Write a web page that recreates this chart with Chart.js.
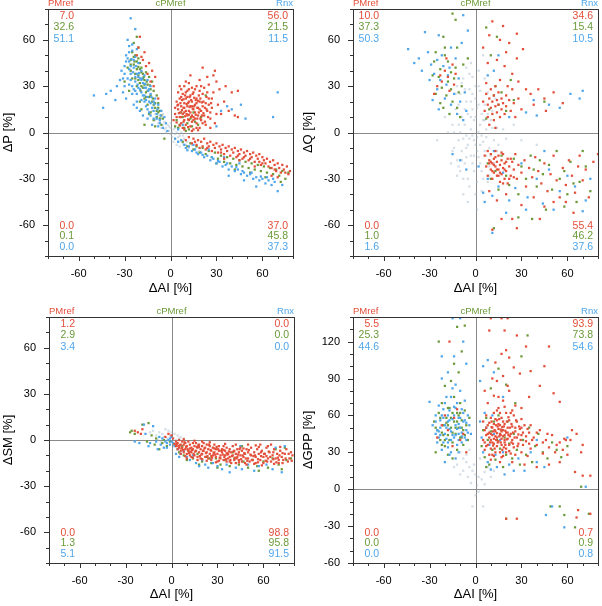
<!DOCTYPE html>
<html>
<head>
<meta charset="utf-8">
<script src="https://cdn.jsdelivr.net/npm/chart.js@4.4.1/dist/chart.umd.min.js"></script>
<style>
  body { margin: 0; background: #fff; }
  .panel { position: absolute; }
</style>
</head>
<body>
<canvas id="c1" class="panel" style="left:0;top:0" width="300" height="300"></canvas>
<canvas id="c2" class="panel" style="left:300px;top:0" width="302" height="300"></canvas>
<canvas id="c3" class="panel" style="left:0;top:300px" width="300" height="306"></canvas>
<canvas id="c4" class="panel" style="left:300px;top:300px" width="302" height="306"></canvas>
<script>
// series names (top labels)
let seriesNames = ['PMref', 'cPMref', 'Rnx'];

// corner percentages, order: PMref, cPMref, Rnx
let p1TL = [7.0, 32.6, 51.1], p1TR = [56.0, 21.5, 11.5], p1BL = [0.0, 0.1, 0.0], p1BR = [37.0, 45.8, 37.3];
let p2TL = [10.0, 37.3, 50.3], p2TR = [34.6, 15.4, 10.5], p2BL = [0.0, 1.0, 1.6], p2BR = [55.4, 46.2, 37.6];
let p3TL = [1.2, 2.9, 3.4], p3TR = [0.0, 0.0, 0.0], p3BL = [0.0, 1.3, 5.1], p3BR = [98.8, 95.8, 91.5];
let p4TL = [5.5, 25.3, 44.6], p4TR = [93.9, 73.8, 54.6], p4BL = [0.0, 0.0, 0.0], p4BR = [0.7, 0.9, 0.8];

// ---- panel 1 : dP vs dAI ----
let p1Red = [[4,20],[5,15],[6,10],[6,22],[7,6],[7,17],[8,12],[8,25],[8,3],[9,19],[9,8],[10,14],[10,22],[10,5],[11,17],[11,11],[11,27],[12,20],[12,8],[12,14],[13,24],[13,4],[13,17],[14,11],[14,20],[14,7],[15,15],[15,26],[15,2],[16,18],[16,9],[16,13],[17,22],[17,6],[18,16],[18,11],[19,20],[19,3],[20,14],[20,8],[21,25],[21,17],[22,11],[23,19],[23,5],[24,14],[25,22],[26,9],[27,16],[28,26],[5,26],[6,30],[9,30],[12,32],[14,29],[17,30],[19,34],[22,29],[25,31],[28,37],[30,33],[32,28],[24,36],[13,37],[21,42],[29,40],[36,30],[40,26],[44,27],[35,20],[38,14],[42,11],[44,10],[31,18],[33,12],[29,6],[26,3],[3,12],[2,8],[7,28],[10,33],[9,16],[13,13],[17,19],[11,23],[15,10],[19,15],[7,10],[21,6],
  [4.5,17.5],[5.5,12.5],[6.5,19],[7.5,14.5],[8.5,21.5],[9.5,10.5],[10.5,18.5],[11.5,8.5],[12.5,16.5],[13.5,21],[14.5,15.5],[15.5,22.5],[16.5,11.5],[17.5,16],[18.5,24],[19.5,9],[20.5,19.5],[21.5,12.5],[22.5,16],[23.5,23],[24.5,10],[26.5,19],[8.5,7],[11.5,3.5],[15,8],[18,1.5],[6,4.5],[4,6.5],[10,26],[16,28],[20,30],[27,22],[30,12],[12,11.5],[14,17],[18,20.5],[9,13],
  [5,18],[6.5,13],[7.5,21],[8.5,16],[9.5,24],[10.5,12],[11.5,19],[12.5,23],[13.5,10],[14.5,25],[15.5,17],[16.5,21],[17.5,9],[18.5,13],[19.5,22],[20.5,11],[21.5,20],[22.5,7],[23.5,15],[25,18],[26,13],[9,2],[14,1],[17,3],[4,10],[3,16],[7,23],[12,28],[19,27],[24,26],
  [-20,62],[-17,52],[-18,47],[-14,45],[-12,40],[-16,43],[-10,36],[-13,33],[-21,55],[-19,49],[-11,30],[-15,38],[-8,22],[-22,50],
  [10,-5],[12,-3],[14,-7],[15,-4],[17,-8],[18,-5],[19,-10],[20,-6],[21,-9],[22,-4],[23,-11],[24,-7],[25,-9],[26,-6],[27,-12],[28,-8],[29,-10],[30,-7],[31,-13],[32,-9],[33,-11],[34,-8],[35,-14],[36,-10],[37,-12],[38,-9],[39,-15],[40,-11],[41,-13],[42,-10],[43,-16],[44,-12],[45,-14],[46,-11],[47,-17],[48,-13],[49,-15],[50,-12],[51,-18],[52,-14],[53,-16],[54,-13],[55,-19],[56,-15],[57,-17],[58,-14],[59,-21],[60,-16],[61,-18],[62,-20],[63,-17],[64,-22],[65,-19],[66,-23],[67,-18],[68,-21],[69,-25],[70,-20],[71,-23],[72,-26],[73,-21],[74,-24],[76,-22],[77,-27],[78,-25],[66,-28],[70,-29],[55,-22],[45,-18],[35,-17],
  [16,-6],[24,-10],[33,-13],[44,-15],[52,-17],[60,-20],[68,-24],[75,-26],[58,-19],[48,-16]];
let p1Green = [[-25,52],[-23,50],[-26,47],[-21,48],[-24,44],[-20,45],[-22,41],[-19,42],[-26,40],[-18,38],[-21,37],[-16,39],[-23,35],[-17,34],[-14,36],[-20,32],[-15,31],[-12,33],[-18,29],[-13,28],[-16,26],[-11,27],[-14,23],[-9,24],[-17,22],[-12,20],[-8,19],[-15,18],[-10,16],[-13,13],[-7,14],[-9,10],[-5,9],[-11,8],[-6,5],[-22,30],[-25,35],[-28,42],[-30,33],[-27,27],[-20,20],[-19,15],[-17,5],[-4,-4],[-24,58],[-22,62],[-21,55],[-14,12],[-10,4],[-8,13],
  [-23.5,46],[-21,42.5],[-19,39],[-17.5,36],[-15.5,33],[-13.5,30.5],[-11.5,22],[-10,19],[-8,16],[-6,11],[-19.5,27],[-16,23],
  [-24,49],[-22,46],[-20,41],[-18,35],[-17,31],[-15,27],[-13,24],[-11,18],[-9,14],[-7,9],[-21,34],[-19,30],[-26,44],[-23,38],
  [4,8],[6,5],[8,10],[9,3],[11,6],[13,9],[10,1],[7,13],[5,3],[14,4],[16,7],[12,2],[18,5],[15,13],[20,10],[23,24],[3,4],
  [8,-6],[11,-9],[13,-7],[15,-11],[17,-9],[19,-13],[21,-10],[23,-14],[25,-12],[27,-16],[29,-13],[31,-17],[33,-15],[35,-19],[37,-16],[39,-20],[41,-17],[43,-21],[45,-18],[47,-22],[49,-19],[51,-23],[53,-20],[55,-24],[57,-21],[59,-25],[61,-22],[63,-26],[65,-23],[67,-27],[69,-24],[71,-28],[73,-25],[75,-30],[77,-26],[62,-29],[52,-26],[42,-24],[30,-20],[72,-32]];
let p1Blue = [[-26,74],[-23,67],[-28,60],[-27,56],[-25,53],[-29,50],[-23,49],[-27,46],[-21,45],[-30,43],[-24,42],[-19,40],[-26,38],[-21,36],[-17,37],[-28,35],[-23,33],[-18,32],[-15,34],[-25,30],[-20,28],[-16,29],[-13,30],[-22,25],[-17,24],[-13,25],[-19,21],[-14,20],[-10,22],[-16,17],[-12,16],[-8,18],[-14,13],[-9,12],[-6,14],[-11,9],[-7,8],[-4,10],[-8,4],[-5,3],[-3,6],[-2,1],[-50,24],[-44,16],[-39,27],[-33,34],[-36,21],[-42,25],[-35,30],[-31,26],[-29,22],[-24,18],[-22,20],[-20,14],[-18,11],[-15,9],[-12,5],[-20,35],[-24,28],[-14,28],[-11,20],[-27,41],[-30,38],[-22,16],
  [-25.5,47.5],[-22.5,43],[-20.5,38.5],[-18.5,35],[-16.5,31.5],[-14.5,27],[-12.5,23],[-10.5,18.5],[-8.5,15],[-6.5,11],[-24.5,39],[-21.5,31],[-19,26],[-17,20],[-15,15],[-13,11],[-28,48],[-26,34],[-23,27],[-30,30],[-32,40],[-25,25],
  [-27,52],[-24,47],[-22,38],[-19,34],[-17,29],[-15,23],[-13,19],[-11,14],[-9,9],[-7,6],[-26,43],[-23,36],[-21,29],[-18,24],[-16,21],[-29,46],[-25,57],[-22,54],[-31,35],[-27,31],
  [70,26],[67,10],[49,9],[40,15],[33,14],[37,17],[46,18],[30,4],[8,5],[5,2],
  [3,-4],[5,-6],[7,-5],[9,-8],[10,-10],[12,-9],[14,-12],[16,-11],[18,-14],[20,-13],[22,-16],[24,-15],[26,-18],[28,-17],[30,-20],[32,-19],[34,-22],[36,-21],[38,-24],[40,-22],[42,-25],[44,-24],[46,-27],[48,-26],[50,-28],[52,-27],[54,-30],[56,-29],[58,-31],[60,-30],[62,-33],[64,-31],[66,-34],[68,-32],[70,-38],[73,-34],[56,-35],[48,-31],[38,-28],[15,-8],[25,-11],[35,-16],[45,-20],
  [11,-11.5],[17,-13],[21,-14.5],[27,-16],[31,-18.5],[37,-20],[43,-22.5],[47,-25],[53,-26],[59,-28.5],[63,-29],[67,-30]];
let p1Grey = [[-12,14],[-10,12],[-9,9],[-8,11],[-7,7],[-6,9],[-5,5],[-4,7],[-3,3],[-2,5],[-1,1],[0,3],[0,-1],[1,0],[1,-3],[2,2],[3,-1],[3,-4],[4,0],[5,-3],[5,-6],[6,-2],[7,-5],[8,-7],[9,-4],[10,-8],[11,-6],[12,-10],[14,-8],[15,-11],[17,-9],[19,-12],[-6,3],[-3,0],[2,-6],[-1,4],[-4,2],[0,6],[4,-8],[6,-9],[-8,6],[-10,8],[-11,16],[-5,12],[3,3],[7,0],[8,-2]];

// ---- panel 2 : dQ vs dAI ----
let p2Red = [[-20,40],[-18,36],[-22,33],[-15,44],[-25,30],[-17,27],[-13,38],[-19,48],[-23,37],[-14,31],[-27,25],
  [11,72],[18,69],[27,64],[16,60],[31,54],[20,52],[14,47],[27,48],[22,58],[9,63],[33,28],[41,28],[57,19],[51,26],[45,22],[38,18],[46,14],[36,25],[28,33],[24,38],[19,43],[8,45],[5,55],
  [5,20],[6,14],[7,25],[8,18],[8,10],[9,22],[10,16],[10,28],[11,12],[11,20],[12,24],[12,8],[13,17],[13,30],[14,21],[14,13],[15,18],[15,26],[16,10],[17,22],[17,15],[18,19],[19,12],[20,24],[20,17],[22,21],[23,14],[24,28],[25,19],[26,10],[28,22],[30,15],[7,32],[16,34],[21,30],[9,5],[13,3],
  [6,-15],[7,-22],[8,-12],[8,-28],[9,-18],[10,-24],[10,-14],[11,-30],[11,-20],[12,-17],[12,-26],[13,-22],[13,-12],[14,-28],[14,-19],[15,-24],[15,-15],[16,-32],[16,-21],[17,-18],[17,-27],[18,-23],[18,-14],[19,-30],[19,-20],[20,-25],[21,-17],[21,-33],[22,-22],[23,-28],[24,-19],[25,-24],[26,-14],[27,-30],[28,-21],[30,-26],[32,-18],[33,-35],[35,-23],[37,-29],[39,-16],[41,-25],[43,-33],[45,-20],[47,-38],[49,-27],[51,-15],[53,-31],[55,-42],[57,-23],[59,-34],[61,-18],[63,-28],[65,-39],[67,-22],[68,-15],[70,-31],[72,-24],[74,-42],[77,-19],[80,-14],[59,-45],[51,-45],[42,-56],[24,-56],[11,-63],[27,-62],[17,-56],[30,-47],[38,-42],[20,-40],[14,-44],[45,-48],[64,-52],[9,-38],
  [9,-20],[11,-25],[13,-16],[14,-24],[16,-26],[17,-13],[19,-24],[20,-19],[22,-30],[23,-17],[25,-29],[12,-21],[15,-28],[18,-33],[10,-19]];
let p2Green = [[-15,77],[-13,73],[-21,62],[-27,46],[-18,46],[-23,41],[-26,52],[-20,50],[-16,39],[-24,36],[-18,33],[-22,29],[-14,35],[-26,25],[-19,24],[-15,20],[-23,19],[-12,16],[-17,12],[-11,26],[-9,30],[-13,42],[-20,55],[-28,37],[-16,28],[-21,16],[-10,10],[-8,44],[-12,55],[-5,48],
  [7,68],[14,62],[10,50],[12,24],[15,18],[17,26],[9,15],[20,14],[25,21],[13,30],[45,20],[7,9],[23,34],
  [8,-20],[10,-30],[13,-25],[15,-37],[17,-15],[20,-28],[22,-34],[25,-17],[28,-40],[30,-22],[33,-30],[36,-15],[38,-24],[40,-35],[42,-18],[44,-27],[46,-50],[48,-21],[50,-37],[53,-12],[55,-30],[58,-25],[60,-40],[62,-19],[64,-33],[66,-45],[68,-32],[70,-12],[72,-22],[37,-56],[28,-55],[12,-62],[75,-38],[58,-48]];
let p2Blue = [[-14,80],[-10,80],[-8,76],[-24,63],[-33,65],[-44,54],[-37,48],[-31,52],[-29,44],[-25,47],[-21,43],[-27,38],[-23,34],[-19,31],[-17,42],[-25,28],[-20,22],[-16,18],[-24,15],[-12,12],[-14,25],[-10,20],[-8,8],[-6,14],[-18,37],[-22,50],[-11,35],[-7,26],[-30,34],[-13,48],[-28,21],[-9,58],[-5,66],[-16,55],[-40,45],[-35,40],
  [70,27],[68,22],[40,11],[48,18],[33,13],[12,40],[15,50],[8,37],[38,21],[55,16],[62,25],[22,10],
  [-15,-14],[-10,-18],[-6,-24],[5,-39],[11,-41],[51,-50],[70,-51],[11,-65],[33,-50],[8,-30],[12,-12],[15,-35],[18,-26],[22,-44],[26,-36],[30,-20],[34,-42],[40,-30],[44,-46],[48,-24],[55,-38],[60,-28],[65,-35],[72,-44],[2,-22],[6,-45],[20,-52],[45,-12],[75,-30]];
let p2Grey = [[-12,30],[-10,25],[-8,35],[-6,20],[-4,28],[-2,15],[0,22],[2,30],[4,12],[6,18],[8,26],[-9,10],[-7,5],[-5,12],[-3,2],[-1,8],[1,-3],[3,5],[5,-6],[7,2],[9,-10],[-11,-5],[-9,-12],[-7,-20],[-5,-8],[-3,-15],[-1,-25],[1,-12],[3,-20],[5,-30],[7,-15],[9,-22],[-13,15],[-14,-10],[-8,-30],[-4,-35],[0,-40],[4,-38],[-2,36],[2,40],[-6,42],[10,8],[12,-5],[14,3],[-15,5],[-11,18],[0,10],[0,-8],[-2,-2],[2,0],[-4,-4],[4,-2],[6,8],[-6,-16],[8,-32],[-10,-25],[-12,-18],[11,14],[13,22],[-16,-20],[-3,45],[5,50],[-8,-40],[-5,-45],[1,-50],[15,-8],[18,2],[20,-4],[-18,0],[-20,10],[30,-5],[40,-8],[25,5],[-25,-5],
  [-13,25],[-9,32],[-7,15],[-3,20],[1,16],[3,27],[5,8],[-11,5],[-8,-4],[-6,-10],[-2,-20],[2,-16],[4,-25],[6,-12],[-9,-18],[-12,-28],[-5,-30],[1,-32],[-1,-5],[-3,10],[3,-8],[7,-3],[-10,0],[10,-15],[12,-20],[-14,0],[-7,28],[-4,38],[0,30],[6,35],[-1,-15],[-6,-2],[8,12],[9,-28],[-2,25],[2,18],[-15,-12],[-11,-22],[14,-12],[11,3]];

// ---- panel 3 : dSM vs dAI ----
let p3Red = [[3,-1],[3,-4],[4,-2],[5,-5],[5,0],[6,-3],[6,-7],[7,-1],[7,-5],[8,-3],[8,-8],[9,-2],[9,-6],[10,-4],[10,-9],[11,-1],[11,-7],[12,-3],[12,-10],[13,-5],[13,-8],[14,-2],[14,-6],[15,-4],[15,-10],[16,-7],[16,-2],[17,-5],[17,-11],[18,-3],[18,-8],[19,-6],[19,-12],[20,-4],[20,-9],[21,-2],[21,-7],[22,-11],[22,-5],[23,-8],[23,-3],[24,-12],[24,-6],[25,-9],[25,-4],[26,-7],[26,-13],[27,-5],[27,-10],[28,-3],[28,-8],[29,-11],[29,-6],[30,-9],[30,-14],[31,-4],[31,-7],[32,-12],[32,-10],[33,-6],[33,-8],[34,-13],[34,-4],[35,-10],[35,-7],[36,-14],[36,-5],[37,-9],[37,-12],[38,-6],[38,-11],[39,-8],[39,-15],[40,-4],[40,-10],[41,-13],[41,-7],[42,-9],[42,-15],[43,-6],[43,-11],[44,-8],[44,-13],[45,-5],[45,-10],[46,-14],[46,-7],[47,-11],[48,-9],[48,-15],[49,-6],[50,-12],[50,-8],[51,-14],[52,-10],[52,-5],[53,-13],[54,-8],[55,-11],[55,-15],[56,-6],[57,-9],[58,-13],[59,-7],[60,-11],[60,-15],[61,-9],[62,-5],[63,-12],[64,-8],[65,-14],[66,-10],[67,-6],[68,-12],[69,-9],[70,-15],[71,-7],[72,-11],[73,-13],[74,-9],[75,-6],[77,-12],[79,-10],[76,-14],[65,-3],[58,-3],[50,-3],[1,1],[0,3],[-2,4],[-4,2],[-22,5],[-20,4],[-24,6],[-19,7],
  [3.5,-2.5],[5.5,-3.5],[7.5,-6.5],[9.5,-4.5],[11.5,-8.5],[13.5,-6.5],[15.5,-7.5],[17.5,-3.5],[19.5,-9.5],[21.5,-5.5],[23.5,-10.5],[25.5,-6.5],[27.5,-8.5],[29.5,-4.5],[31.5,-11.5],[33.5,-9.5],[35.5,-12.5],[37.5,-7.5],[39.5,-10.5],[41.5,-11.5],[43.5,-9.5],[45.5,-12.5],[47.5,-8.5],[49.5,-13.5],[51.5,-9.5],[53.5,-10.5],[56.5,-12.5],[58.5,-10.5],[61.5,-13.5],[63.5,-7.5],[66.5,-12.5],[69.5,-11.5],[72.5,-8.5],[9,-10.5],[14,-11.5],[20,-12.5],[26,-10.5],[31,-13.5],[36,-8.5],[44,-14.5],[54,-15.5],[62,-10.5],[70,-13],[4,-6],[12,-5.5],[18,-4.5],[28,-5.5],[34,-6.5],[47,-5.5],[57,-4.5],[78,-8],
  [2,-2.5],[4.5,-4],[6.5,-5.5],[8.5,-1.5],[10.5,-6],[12.5,-7.5],[14.5,-9],[16.5,-4.5],[18.5,-10.5],[20.5,-7],[22.5,-8.5],[24.5,-3],[26.5,-11.5],[28.5,-9.5],[30.5,-6],[32.5,-7],[34.5,-11],[36.5,-9.5],[38.5,-13],[40.5,-7.5],[42.5,-12],[44.5,-6],[46.5,-10],[48.5,-12],[50.5,-6.5],[52.5,-13],[54.5,-10],[56.5,-14.5],[58.5,-8],[60.5,-9],[62.5,-14],[64.5,-11],[66.5,-8],[68.5,-14.5],[70.5,-10],[72.5,-15],[74.5,-12],[76.5,-9],[78.5,-13.5],[13,-11],[17,-13],[23,-13.5],[29,-14.5],[38,-14],[49,-16],[59,-16.5],[67,-15.5],[6,-9],[10,-12],[25,-1.5],[35,-2.5],[42,-3],[55,-3.5],[63,-4],[71,-4.5],[8,0.5],[15,-0.5],[20,-1]];
let p3Green = [[-27,5],[-24,4],[-19,10],[-15,11],[-13,3],[-10,1],[-8,-6],[-6,-2],[-3,-4],[-1,-1],[2,-3],[5,-8],[8,-10],[11,-7],[14,-12],[17,-9],[20,-14],[23,-11],[26,-15],[29,-12],[32,-16],[35,-13],[38,-17],[41,-12],[44,-16],[47,-14],[50,-18],[53,-13],[56,-17],[57,-20],[60,-14],[63,-18],[66,-12],[68,-6],[70,-16],[72,-19],[74,-5],[75,-13],[78,-12],[46,-4],[-11,-3],[-16,-1],[-26,6],[10,-13],[25,-12],[40,-8],[-5,0],[7,-4],[18,-16],[30,-18]];
let p3Blue = [[-21,-2],[-15,-4],[-14,-2],[-12,9],[-18,10],[-9,-6],[-7,-3],[-5,-5],[-3,-2],[-2,0],[-1,-3],[0,-1],[-6,1],[-4,-1],[-10,-1],[-8,2],[2,-4],[4,-6],[6,-9],[8,-7],[10,-11],[12,-13],[14,-10],[16,-15],[18,-17],[20,-13],[22,-16],[24,-18],[27,-15],[30,-17],[33,-19],[36,-16],[38,-21],[42,-18],[46,-19],[50,-16],[54,-20],[57,-17],[62,-16],[66,-19],[68,-5],[72,-21],[74,-4],[45,-4],[-17,4],[-24,-1],[0,2],[1,-2],[-1,1],[-3,-5],[3,-9],[5,-11]];
let p3Grey = [[-10,3],[-8,5],[-6,4],[-4,7],[-2,6],[0,5],[2,4],[4,3],[6,2],[8,1],[-12,6],[-7,-1],[-3,1],[1,1],[3,0],[-5,2],[-9,0],[5,1],[-14,5],[-1,3]];

// ---- panel 4 : dGPP vs dAI ----
let p4Red = [[5,40],[5,55],[6,32],[6,48],[7,44],[7,60],[8,36],[8,52],[9,28],[9,46],[10,40],[10,58],[10,33],[11,50],[11,44],[12,37],[12,62],[12,53],[13,47],[13,30],[14,42],[14,56],[14,35],[15,49],[15,39],[15,66],[16,45],[16,52],[16,30],[17,41],[17,58],[17,36],[18,48],[18,43],[18,27],[19,53],[19,38],[20,46],[20,62],[20,33],[21,50],[21,41],[22,56],[22,36],[23,45],[23,29],[24,51],[24,40],[25,60],[25,34],[26,47],[27,42],[27,55],[28,37],[29,49],[30,30],[30,44],[32,52],[33,39],[34,27],[35,46],[36,33],[38,42],[40,36],[42,48],[44,29],[46,40],[48,34],[50,44],[52,30],[55,38],[58,41],[60,28],[63,48],[59,40],[70,36],[65,14],[70,11],[75,11],[55,22],[48,20],[40,18],[32,20],[24,22],[16,22],[10,24],[8,70],[12,76],[18,72],[26,68],[22,80],[30,66],[35,75],[42,84],[51,78],[55,71],[29,94],[13,103],[22,107],[20,113],[33,116],[48,116],[27,125],[19,129],[9,129],[17,139],[21,139],[10,139],[14,88],[18,92],[6,80],[13,43],[17,47],[19,44],[11,38],[15,53],[21,46],
  [9,42],[10.5,50.5],[11.5,35.5],[12.5,48],[13.5,40],[14.5,51],[15.5,43],[16.5,38],[17.5,50.5],[18.5,34],[19.5,47.5],[20.5,40.5],[21.5,58.5],[22.5,43],[23.5,53],[24.5,37],[26,50],[28,44.5],[30,57],[31,36],[34,49],[37,40],[7,50],[6,38],[9,54],[11,28],[13,57],[16,62],[18,55],[24,64],[20,30],[14,45.5],[16.5,48.5],[12,41],[10,45],[19,40],
  [8,45],[9.5,38],[10.5,55],[11.5,47],[12.5,33],[13.5,52],[14.5,38],[15.5,57],[16.5,44],[17.5,32],[18.5,51],[19.5,36],[20.5,55],[21.5,44],[22.5,50],[23.5,38],[24.5,46],[25.5,42],[26.5,56],[27.5,35],[28.5,51],[29.5,40],[31,46],[33,43],[35,37],[12,27],[14,64],[19,67],[23,62],[7,35],[17,26],[22,31],[26,28],[30,50],[36,52],[40,46],[44,38],[47,45],[53,36],[57,32],[62,40],[66,45],[69,30],[15,75],[21,84],[11,90],[25,99],[17,110],[36,96],[45,100],
  [20,-24],[27,-24],[67,-17],[66,-23],[75,-20],
  [-17,120],[-14,58],[-18,48],[-10,40],[-22,52],[-12,65],[-8,45],[-15,35],[-20,60],[-25,42],[-6,30]];
let p4Green = [[-27,55],[-25,48],[-24,62],[-23,40],[-22,70],[-21,52],[-20,35],[-19,58],[-18,44],[-17,66],[-16,50],[-15,38],[-14,75],[-14,55],[-13,45],[-12,62],[-12,32],[-11,50],[-10,70],[-10,42],[-9,56],[-8,36],[-8,48],[-7,64],[-6,52],[-5,40],[-20,84],[-16,88],[-11,95],[-14,102],[-24,120],[-12,132],[-7,133],[-9,112],[-18,28],[-26,30],[-4,58],[-15,25],
  [-22,46],[-18,52],[-15,46],[-12,55],[-9,42],[-20,40],[-16,58],[-10,62],
  [-26,50],[-23,58],[-21,44],[-19,54],[-17,40],[-15,62],[-13,50],[-11,60],[-9,50],[-7,44],[-22,36],[-18,66],
  [4,35],[5,48],[6,26],[7,58],[8,40],[9,20],[10,47],[11,32],[12,55],[13,24],[14,40],[15,60],[16,33],[17,48],[18,18],[19,42],[20,28],[21,55],[22,37],[24,25],[25,45],[27,32],[29,20],[31,40],[33,28],[35,50],[37,22],[39,35],[41,45],[44,30],[47,25],[50,38],[53,32],[56,26],[10,82],[15,98],[20,85],[26,70],[30,108],[34,125],[69,2],[49,-14],[55,-14],[58,-21],[65,-31],[74,-20],[20,-24],[7,18],[60,35]];
let p4Blue = [[-28,52],[-26,45],[-26,60],[-25,38],[-24,68],[-23,50],[-22,32],[-21,58],[-20,45],[-19,75],[-18,38],[-18,55],[-17,64],[-16,30],[-16,47],[-15,82],[-14,42],[-14,60],[-13,52],[-12,70],[-12,36],[-11,45],[-11,58],[-10,80],[-10,50],[-9,38],[-9,65],[-8,55],[-7,42],[-7,72],[-6,48],[-5,60],[-4,52],[-22,90],[-18,95],[-14,108],[-8,120],[-15,139],[-10,139],[-6,102],[-30,71],[-22,108],[-17,28],[-13,25],[-20,22],[-3,45],[-24,42],
  [-23,56],[-20,52],[-17,49],[-15,57],[-13,44],[-11,53],[-9,46],[-7,56],[-19,41],[-16,40],[-21,65],[-13,66],[-25,48],[-11,40],[-6,40],[-18,60],
  [-26,55],[-24,47],[-22,60],[-21,38],[-19,50],[-17,56],[-15,44],[-14,67],[-12,49],[-10,58],[-9,43],[-8,62],[-6,54],[-5,46],[-20,70],[-16,75],[-13,85],[-18,34],[-11,30],[-23,44],
  [3,55],[4,42],[5,30],[6,62],[7,50],[8,22],[9,36],[10,16],[11,60],[12,45],[13,28],[14,18],[16,40],[18,30],[19,12],[22,20],[25,15],[28,25],[32,15],[36,30],[40,22],[45,18],[8,105],[5,100],[12,95],[3,88],[72,2],[50,-14],[46,-21],[58,-31],[60,42],[40,40],[18,75]];
let p4Grey = [[-10,30],[-8,25],[-6,22],[-4,18],[-2,15],[0,12],[2,10],[4,8],[-5,10],[-3,5],[0,-5],[2,-2],[-2,-14],[5,-14],[-8,15],[-12,20],[-6,28],[6,14],[8,18],[10,10],[-1,20],[3,25],[-4,32],[12,15],[-14,18],[-10,12],[1,3],[6,4]];

let colRed = '#e34f3a', colGreen = '#6c9a3a', colBlue = '#4fa6ea';
let colors = [colRed, colGreen, colBlue];
let FONT = '"Liberation Sans", Arial, Helvetica, sans-serif';

function pts(a) { return a.map(p => ({x: p[0], y: p[1]})); }

// frame, ticks, zero lines and corner text
const decor = {
  id: 'decor',
  beforeDatasetsDraw(chart) {
    const {ctx, chartArea: a, scales: {x, y}} = chart;
    ctx.save();
    ctx.strokeStyle = '#8a8a8a';
    ctx.lineWidth = 1;
    const x0 = Math.round(x.getPixelForValue(0)) + 0.5;
    const y0 = Math.round(y.getPixelForValue(0)) + 0.5;
    ctx.beginPath();
    ctx.moveTo(x0, a.top); ctx.lineTo(x0, a.bottom);
    ctx.moveTo(a.left, y0); ctx.lineTo(a.right, y0);
    ctx.stroke();
    ctx.restore();
  },
  afterDraw(chart, args, o) {
    const {ctx, chartArea: a, scales: {x, y}} = chart;
    ctx.save();
    ctx.strokeStyle = '#333';
    ctx.lineWidth = 1;
    ctx.strokeRect(Math.round(a.left) + 0.5, Math.round(a.top) + 0.5, Math.round(a.width), Math.round(a.height));
    ctx.beginPath();
    x.ticks.forEach(t => {
      const px = Math.round(x.getPixelForValue(t.value)) + 0.5;
      const len = t.value % 30 === 0 ? 5 : 3;
      ctx.moveTo(px, a.bottom); ctx.lineTo(px, a.bottom + len);
    });
    y.ticks.forEach(t => {
      const py = Math.round(y.getPixelForValue(t.value)) + 0.5;
      const len = t.value % 30 === 0 ? 5 : 3;
      ctx.moveTo(a.left, py); ctx.lineTo(a.left - len, py);
    });
    ctx.stroke();

    // series names above the frame
    ctx.font = '9.5px ' + FONT;
    ctx.textBaseline = 'bottom';
    ctx.fillStyle = colRed; ctx.textAlign = 'left';
    ctx.fillText(seriesNames[0], a.left, a.top - 0.5);
    ctx.fillStyle = colGreen; ctx.textAlign = 'center';
    ctx.fillText(seriesNames[1], (a.left + a.right) / 2, a.top - 0.5);
    ctx.fillStyle = colBlue; ctx.textAlign = 'right';
    ctx.fillText(seriesNames[2], a.right, a.top - 0.5);

    // corner values
    ctx.font = '10.5px ' + FONT;
    ctx.textBaseline = 'middle';
    for (let i = 0; i < 3; i++) {
      ctx.fillStyle = colors[i];
      ctx.textAlign = 'right';
      ctx.fillText(o.tl[i].toFixed(1), a.left + 26, a.top + 7 + i * 11.5);
      ctx.fillText(o.bl[i].toFixed(1), a.left + 26, a.bottom - 30 + i * 10.5);
      ctx.fillText(o.tr[i].toFixed(1), a.right - 5, a.top + 7 + i * 11.5);
      ctx.fillText(o.br[i].toFixed(1), a.right - 5, a.bottom - 30 + i * 10.5);
    }
    ctx.restore();
  }
};

function noPad(s) { s.paddingLeft = 0; s.paddingRight = 0; s.paddingTop = 0; s.paddingBottom = 0; }

function panel(id, yTitle, ymin, ymax, red, green, blue, grey, corners, box) {
  const ctx = document.getElementById(id).getContext('2d');
  const W = ctx.canvas.width, H = ctx.canvas.height;
  const ds = (data, color, order) => ({data: pts(data), backgroundColor: color, borderWidth: 0,
    pointStyle: 'rect', pointRadius: 1.6, order: order});
  return new Chart(ctx, {
    type: 'scatter',
    data: {
      datasets: [
        ds(grey, 'rgba(165,185,200,0.45)', 3),
        ds(green, colGreen, 2),
        ds(blue, colBlue, 1),
        ds(red, colRed, 0)
      ]
    },
    options: {
      responsive: false,
      animation: false,
      devicePixelRatio: 1,
      layout: {padding: {top: box.top, right: W - box.right, left: 0, bottom: 0}},
      plugins: {legend: {display: false}, tooltip: {enabled: false}, decor: corners},
      scales: {
        x: {
          type: 'linear', min: -80, max: 80,
          afterFit: s => { s.height = H - box.bottom; noPad(s); },
          grid: {display: false, drawTicks: false, tickLength: 0},
          border: {display: false},
          ticks: {stepSize: 10, autoSkip: false, maxRotation: 0, minRotation: 0, padding: 11, color: '#000',
            font: {size: 11, family: FONT},
            callback: v => (v % 30 === 0 && Math.abs(v) < 80) ? String(v) : ''},
          title: {display: true, text: 'ΔAI [%]', color: '#000', font: {size: 13, family: FONT},
            padding: {top: 0, bottom: 4}}
        },
        y: {
          type: 'linear', min: ymin, max: ymax,
          afterFit: s => { s.width = box.left; noPad(s); },
          grid: {display: false, drawTicks: false, tickLength: 0},
          border: {display: false},
          ticks: {stepSize: 10, autoSkip: false, padding: 13, color: '#000',
            font: {size: 11, family: FONT},
            callback: v => (v % 30 === 0 && v < ymax) ? String(v) : ''},
          title: {display: true, text: yTitle, color: '#000', font: {size: 13, family: FONT},
            padding: {top: 1, bottom: 0}}
        }
      }
    },
    plugins: [decor]
  });
}

panel('c1', 'ΔP [%]', -80, 80, p1Red, p1Green, p1Blue, p1Grey,
  {tl: p1TL, tr: p1TR, bl: p1BL, br: p1BR}, {left: 48, right: 293, top: 9, bottom: 256});
panel('c2', 'ΔQ [%]', -80, 80, p2Red, p2Green, p2Blue, p2Grey,
  {tl: p2TL, tr: p2TR, bl: p2BL, br: p2BR}, {left: 53, right: 298, top: 9, bottom: 256});
panel('c3', 'ΔSM [%]', -80, 80, p3Red, p3Green, p3Blue, p3Grey,
  {tl: p3TL, tr: p3TR, bl: p3BL, br: p3BR}, {left: 49, right: 294, top: 17, bottom: 263});
panel('c4', 'ΔGPP [%]', -60, 140, p4Red, p4Green, p4Blue, p4Grey,
  {tl: p4TL, tr: p4TR, bl: p4BL, br: p4BR}, {left: 53, right: 298, top: 17, bottom: 263});
</script>
</body>
</html>
